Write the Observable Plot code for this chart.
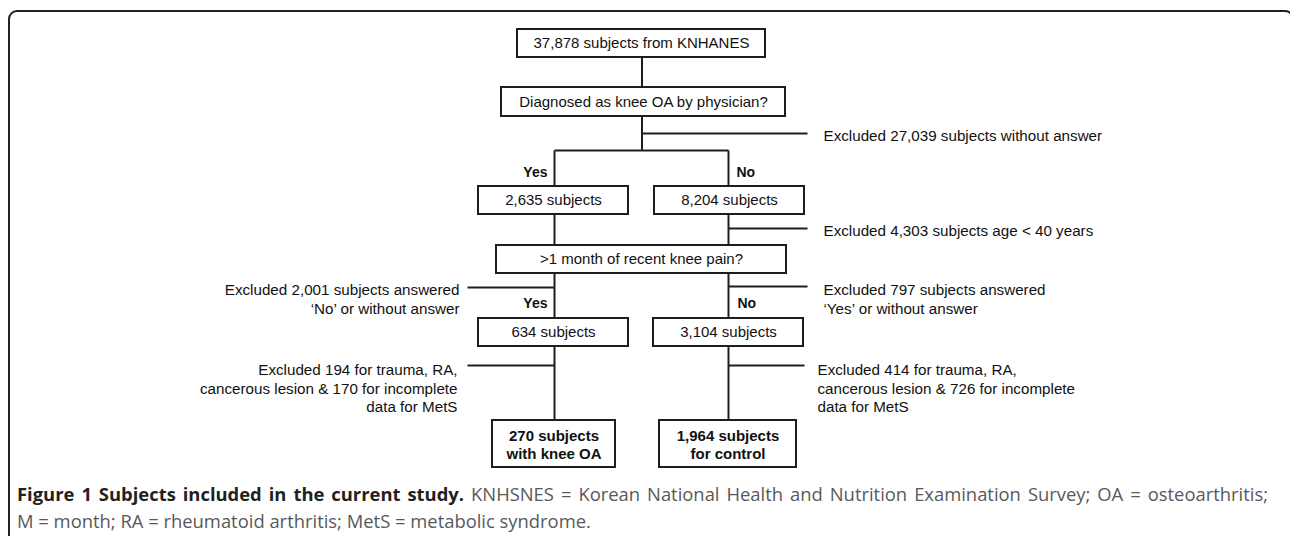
<!DOCTYPE html>
<html><head><meta charset="utf-8">
<script src="https://cdn.jsdelivr.net/npm/d3@7"></script>
<script src="https://cdn.jsdelivr.net/npm/@observablehq/plot@0.6"></script>
<style>
html,body{margin:0;padding:0;background:#fff;width:1290px;height:536px;overflow:hidden;position:relative;}
#frame{position:absolute;left:8px;top:10px;width:1286px;height:600px;border:2px solid #222;border-radius:9px;box-sizing:border-box;}
#chart{position:absolute;left:0;top:0;}
#caption{position:absolute;left:17px;top:480px;font-family:"Open Sans",sans-serif;font-size:18.4px;line-height:27px;color:#58595b;white-space:nowrap;}
#caption .l1{width:1251px;text-align:justify;text-align-last:justify;}
#caption b{color:#231f20;font-weight:700;}
</style></head>
<body>
<div id="frame"></div>
<div id="chart"></div>
<div id="caption"></div>
<script>
// ---- data ----
const boxLabels = [
  "37,878 subjects from KNHANES",
  "Diagnosed as knee OA by physician?",
  "2,635 subjects",
  "8,204 subjects",
  ">1 month of recent knee pain?",
  "634 subjects",
  "3,104 subjects",
  "270 subjects\nwith knee OA",
  "1,964 subjects\nfor control"
];
const branchLabels = ["Yes", "No", "Yes", "No"];
const exclusionLabels = [
  "Excluded 27,039 subjects without answer",
  "Excluded 4,303 subjects age < 40 years",
  "Excluded 2,001 subjects answered\n‘No’ or without answer",
  "Excluded 797 subjects answered\n‘Yes’ or without answer",
  "Excluded 194 for trauma, RA,\ncancerous lesion & 170 for incomplete\ndata for MetS",
  "Excluded 414 for trauma, RA,\ncancerous lesion & 726 for incomplete\ndata for MetS"
];
const captionTitle = "Figure 1 Subjects included in the current study.";
const captionLines = [
  "KNHSNES = Korean National Health and Nutrition Examination Survey; OA = osteoarthritis;",
  "M = month; RA = rheumatoid arthritis; MetS = metabolic syndrome."
];

// ---- layout (flowchart geometry) ----
const W = 1290, H = 480;
const colMid = 641.5, colL = 554, colR = 728;
const boxGeom = [
  {x1: 517, x2: 765, y1: 29, y2: 57, bold: false},
  {x1: 501, x2: 785, y1: 87, y2: 116, bold: false},
  {x1: 478, x2: 628, y1: 186, y2: 214, bold: false},
  {x1: 654, x2: 804, y1: 186, y2: 214, bold: false},
  {x1: 496, x2: 786, y1: 245, y2: 273, bold: false},
  {x1: 478, x2: 628, y1: 318, y2: 346, bold: false},
  {x1: 653, x2: 803, y1: 318, y2: 346, bold: false},
  {x1: 492, x2: 615, y1: 420, y2: 467, bold: true},
  {x1: 659, x2: 796, y1: 420, y2: 467, bold: true}
];
const boxes = boxLabels.map((label, i) => ({label, ...boxGeom[i]}));
const connectors = [
  [colMid, 57, colMid, 87],
  [colMid, 116, colMid, 150],
  [colL, 150, colR, 150],
  [colL, 150, colL, 186], [colR, 150, colR, 186],
  [colL, 214, colL, 245], [colR, 214, colR, 245],
  [colL, 273, colL, 318], [colR, 273, colR, 318],
  [colL, 346, colL, 420], [colR, 346, colR, 420],
  // exclusion arms
  [colMid, 133, 807, 133],
  [colR, 228, 807, 228],
  [467, 287, colL, 287],
  [colR, 286, 807, 286],
  [467, 365, colL, 365],
  [colR, 365, 804, 365]
].map(([x1, y1, x2, y2]) => ({x1, y1, x2, y2}));
const branchGeom = [
  {x: colL - 7, y: 172, anchor: "end"},
  {x: colR + 8, y: 172, anchor: "start"},
  {x: colL - 7, y: 303, anchor: "end"},
  {x: colR + 9, y: 303, anchor: "start"}
];
const branches = branchLabels.map((label, i) => ({label, ...branchGeom[i]}));
const exclGeom = [
  {x: 823, y: 133, anchor: "start"},
  {x: 823, y: 228, anchor: "start"},
  {x: 459, y: 287, anchor: "end"},
  {x: 823, y: 287, anchor: "start"},
  {x: 457, y: 367, anchor: "end"},
  {x: 817, y: 367, anchor: "start"}
];
const exclusions = exclusionLabels.map((label, i) => ({label, ...exclGeom[i]}));

const ink = "#1e1e1e";
const font = "'Liberation Sans', Arial, sans-serif";

const chart = Plot.plot({
  width: W, height: H, margin: 0,
  x: {domain: [0, W], range: [0, W], axis: null},
  y: {domain: [0, H], range: [0, H], axis: null},
  style: {fontFamily: font, background: "transparent", overflow: "visible"},
  marks: [
    Plot.link(connectors, {x1: "x1", y1: "y1", x2: "x2", y2: "y2", stroke: ink, strokeWidth: 2}),
    Plot.rect(boxes, {x1: "x1", x2: "x2", y1: "y1", y2: "y2", fill: "white", stroke: ink, strokeWidth: 2}),
    Plot.text(boxes.filter(d => !d.bold), {x: d => (d.x1 + d.x2) / 2, y: d => (d.y1 + d.y2) / 2, text: "label", fontSize: 15, fill: "#111", lineAnchor: "middle"}),
    Plot.text(boxes.filter(d => d.bold), {x: d => (d.x1 + d.x2) / 2, y: d => (d.y1 + d.y2) / 2, text: "label", fontSize: 15, fontWeight: "bold", fill: "#111", lineAnchor: "middle", lineHeight: 1.2}),
    Plot.text(branches.filter(d => d.anchor === "end"), {x: "x", y: "y", text: "label", textAnchor: "end", fontSize: 14, fontWeight: "bold", fill: "#111"}),
    Plot.text(branches.filter(d => d.anchor === "start"), {x: "x", y: "y", text: "label", textAnchor: "start", fontSize: 14, fontWeight: "bold", fill: "#111"}),
    Plot.text(exclusions.filter(d => d.anchor === "start"), {x: "x", y: "y", text: "label", textAnchor: "start", lineAnchor: "top", dy: -5.6, lineHeight: 1.22, fontSize: 15.2, fill: "#111"}),
    Plot.text(exclusions.filter(d => d.anchor === "end"), {x: "x", y: "y", text: "label", textAnchor: "end", lineAnchor: "top", dy: -5.6, lineHeight: 1.22, fontSize: 15.2, fill: "#111"})
  ]
});
document.getElementById("chart").appendChild(chart);

const cap = document.getElementById("caption");
const l1 = document.createElement("div");
l1.className = "l1";
const b = document.createElement("b");
b.textContent = captionTitle;
l1.appendChild(b);
l1.appendChild(document.createTextNode(" " + captionLines[0]));
cap.appendChild(l1);
const l2 = document.createElement("div");
l2.textContent = captionLines[1];
cap.appendChild(l2);
</script>
</body></html>
